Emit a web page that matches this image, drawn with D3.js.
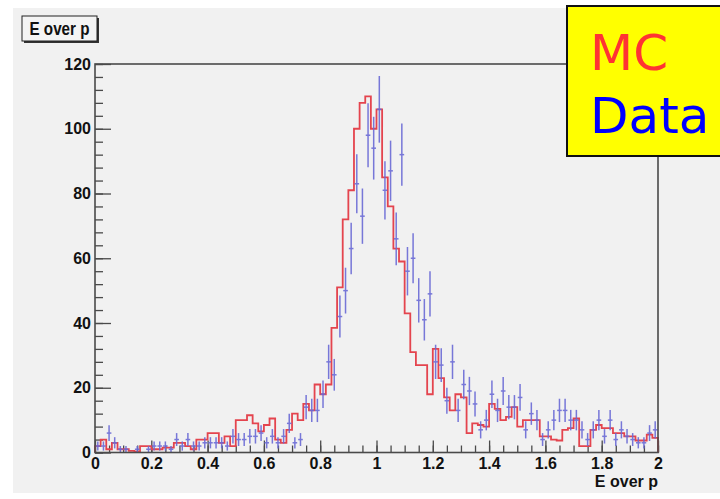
<!DOCTYPE html>
<html><head><meta charset="utf-8">
<script src="https://cdn.jsdelivr.net/npm/d3@7"></script>
<style>body{margin:0;background:#fff;overflow:hidden}</style>
</head><body><svg id="c" width="720" height="499"></svg>
<script>
// ---- data ----
const xMin = 0, xMax = 2, binWidth = 0.02;
const mcCounts = [
  2, 4, 1, 3, 1, 1, 0.5, 0.3, 2, 2,
  1, 1, 1.5, 1.5, 3, 3, 2, 1, 4, 4,
  6, 6, 3, 5, 2, 10, 10, 11.5, 9, 6.5,
  8.5, 10.5, 4, 3, 7, 12, 10, 15, 13, 21,
  18, 21, 38.5, 51, 72, 81, 100, 108, 110, 100,
  106, 85, 76, 63, 59, 43, 31, 27, 27, 18,
  32, 23, 17, 13, 18, 17, 6, 9, 8.5, 8,
  15, 13.5, 10, 11, 14, 8, 10, 10, 10, 5,
  5, 4, 3.7, 7, 7.5, 10.5, 2, 2, 7, 8.5,
  7.5, 7.5, 6, 6, 5, 5, 3.7, 3.7, 5.5, 4.5
];
const dataCounts = [
  2, 2, 6, 3, 1, 1, 0, 1, 0, 1,
  2, 2, 2, 1, 4, 2, 4, 2, 2, 3,
  3, 3, 3, 2, 5, 4, 4, 5, 5, 6,
  3, 5, 3, 5, 9, 3, 4, 14, 13, 13,
  18, 28, 24, 42, 50, 63, 83, 73, 98, 94,
  106, 81, 87, 66, 92, 56, 60, 47, 41, 49,
  28, 27, 16, 28, 13, 21, 19, 15, 7, 10,
  18, 13, 19, 14, 14, 17, 7, 12, 10, 4,
  7, 10, 13, 13, 10, 10, 7, 4, 7, 10,
  5, 10, 4, 7, 5, 4, 3, 3, 6, 7
];
const xTickValues = [0, 0.2, 0.4, 0.6, 0.8, 1, 1.2, 1.4, 1.6, 1.8, 2];
const xTickLabels = ["0", "0.2", "0.4", "0.6", "0.8", "1", "1.2", "1.4", "1.6", "1.8", "2"];
const yTickValues = [0, 20, 40, 60, 80, 100, 120];
const yTickLabels = ["0", "20", "40", "60", "80", "100", "120"];
const titleText = "E over p";
const xAxisTitle = "E over p";
const legendItems = [{label: "MC", color: "#ff3333"}, {label: "Data", color: "#0000ff"}];

// ---- drawing ----
const svg = d3.select("#c");
const L = 95, R = 658, T = 64, B = 452.5;
const x = d3.scaleLinear().domain([xMin, xMax]).range([L, R]);
const y = d3.scaleLinear().domain([0, 120]).range([B, T]);

// canvas background
svg.append("rect").attr("x", 13).attr("y", 8).attr("width", 720).attr("height", 485).attr("fill", "#f1f1f1");

const frameColor = "#4a4a4a";
const tickFont = "bold 16px 'Liberation Sans', Arial, sans-serif";

// minor ticks
const xMinor = d3.range(0, 40.5).map(i => i * 0.05);
svg.append("g").attr("transform", `translate(0,${B})`)
  .call(d3.axisBottom(x).tickValues(xMinor).tickSize(-7).tickFormat(""))
  .call(g => g.select(".domain").remove())
  .call(g => g.selectAll("line").attr("stroke", frameColor).attr("stroke-width", 1.3));
const yMinor = d3.range(0, 30.5).map(i => i * 4);
svg.append("g").attr("transform", `translate(${L},0)`)
  .call(d3.axisLeft(y).tickValues(yMinor).tickSize(-8).tickFormat(""))
  .call(g => g.select(".domain").remove())
  .call(g => g.selectAll("line").attr("stroke", frameColor).attr("stroke-width", 1.3));

// major ticks + labels
svg.append("g").attr("transform", `translate(0,${B})`)
  .call(d3.axisBottom(x).tickValues(xTickValues).tickSize(-12).tickPadding(5)
    .tickFormat((d, i) => xTickLabels[i]))
  .call(g => g.select(".domain").remove())
  .call(g => g.selectAll("line").attr("stroke", frameColor).attr("stroke-width", 1.3))
  .call(g => g.selectAll("text").attr("fill", "#111").style("font", tickFont));
svg.append("g").attr("transform", `translate(${L},0)`)
  .call(d3.axisLeft(y).tickValues(yTickValues).tickSize(-16).tickPadding(4)
    .tickFormat((d, i) => yTickLabels[i]))
  .call(g => g.select(".domain").remove())
  .call(g => g.selectAll("line").attr("stroke", frameColor).attr("stroke-width", 1.3))
  .call(g => g.selectAll("text").attr("fill", "#111").style("font", tickFont));

// MC histogram (step outline)
const edges = d3.range(mcCounts.length + 1).map(i => xMin + i * binWidth);
let pts = [[x(edges[0]), y(0)]];
mcCounts.forEach((v, i) => {
  pts.push([x(edges[i]), y(v)]);
  pts.push([x(edges[i + 1]), y(v)]);
});
pts.push([x(edges[edges.length - 1]), y(0)]);
svg.append("path").attr("d", d3.line()(pts))
  .attr("fill", "none").attr("stroke", "#e4444e").attr("stroke-width", 1.8)
  .attr("stroke-linejoin", "miter");

// Data points with error bars
const dg = svg.append("g").attr("stroke", "#6a6ad6").attr("stroke-width", 1.5).attr("opacity", 0.9);
dataCounts.forEach((n, i) => {
  if (n <= 0) return;
  const e = Math.sqrt(n);
  const xc = x(edges[i] + binWidth / 2);
  dg.append("line").attr("x1", xc).attr("x2", xc)
    .attr("y1", y(Math.max(0, n - e))).attr("y2", y(n + e));
  dg.append("line").attr("x1", x(edges[i]) + 0.5).attr("x2", x(edges[i + 1]) - 0.5)
    .attr("y1", y(n)).attr("y2", y(n));
});

// frame
svg.append("rect").attr("x", L).attr("y", T).attr("width", R - L).attr("height", B - T)
  .attr("fill", "none").attr("stroke", frameColor).attr("stroke-width", 1.6);

// x axis title
svg.append("text").attr("x", R).attr("y", 487).attr("text-anchor", "end")
  .style("font", tickFont).attr("fill", "#111").text(xAxisTitle);

// title box
svg.append("rect").attr("x", 24).attr("y", 18).attr("width", 75).attr("height", 25).attr("fill", "#333");
svg.append("rect").attr("x", 22).attr("y", 16).attr("width", 75).attr("height", 25)
  .attr("fill", "#f4f4f4").attr("stroke", "#222").attr("stroke-width", 1);
svg.append("text").attr("x", 59.5).attr("y", 35).attr("text-anchor", "middle")
  .attr("textLength", 60).attr("lengthAdjust", "spacingAndGlyphs")
  .style("font", "bold 18px 'Liberation Sans', Arial, sans-serif").attr("fill", "#111").text(titleText);

// legend box
svg.append("rect").attr("x", 567).attr("y", 6).attr("width", 170).attr("height", 150)
  .attr("fill", "#ffff00").attr("stroke", "#111").attr("stroke-width", 2);
svg.selectAll(".leg").data(legendItems).join("text")
  .attr("x", 590).attr("y", (d, i) => 70 + i * 63)
  .style("font", "50px 'DejaVu Sans', sans-serif")
  .attr("fill", d => d.color).text(d => d.label);
</script>
</body></html>
